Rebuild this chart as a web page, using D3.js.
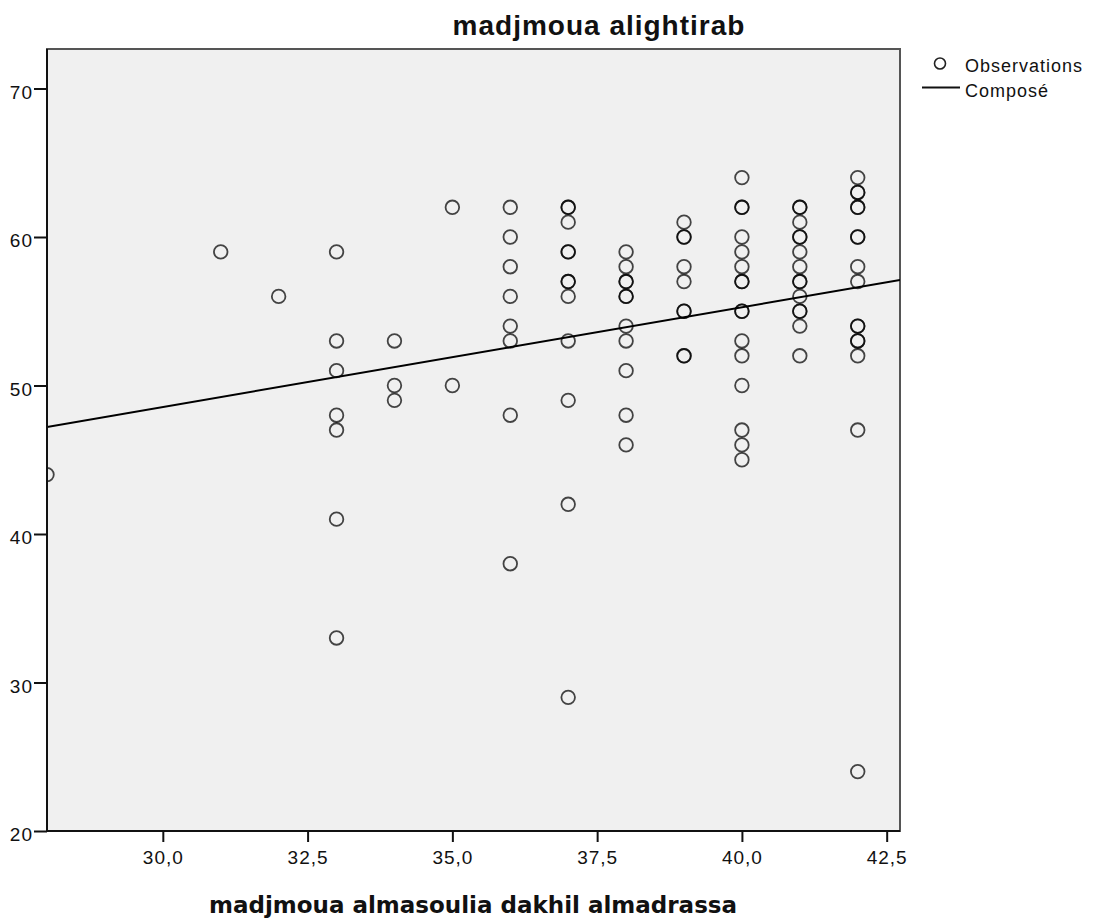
<!DOCTYPE html>
<meta charset="utf-8">
<style>
body { margin: 0; background: #fff; }
.tick text { font-family: "Liberation Sans", Arial, sans-serif; }
</style>
<body>
<svg id="chart" width="1096" height="924"></svg>
</body>
<script src="https://d3js.org/d3.v7.min.js"></script>
<script>
// x score of each column of points, and the y scores stacked on it
var groupX = [28, 31, 32, 33, 34, 35, 36, 37, 38, 39, 40, 41, 42];
var groupY = [
  [44],
  [59],
  [56],
  [59, 53, 51, 48, 47, 41, 33],
  [53, 50, 49],
  [62, 50],
  [62, 60, 58, 56, 54, 53, 48, 38],
  [62, 62, 61, 59, 59, 57, 57, 56, 53, 49, 42, 29],
  [59, 58, 57, 57, 56, 56, 54, 53, 51, 48, 46],
  [61, 60, 60, 58, 57, 55, 55, 52, 52],
  [64, 62, 62, 60, 59, 58, 57, 57, 55, 55, 53, 52, 50, 47, 46, 45],
  [62, 62, 61, 60, 60, 59, 58, 57, 57, 56, 55, 55, 54, 52],
  [64, 63, 63, 62, 62, 60, 60, 58, 57, 54, 54, 53, 53, 52, 47, 24]
];
// linear fit ("Composé")
var fitIntercept = 28.39;
var fitSlope = 0.672;

var xTicks = [30, 32.5, 35, 37.5, 40, 42.5];
var yTicks = [20, 30, 40, 50, 60, 70];
var legendLabels = ["Observations", "Composé"];
var chartTitle = "madjmoua alightirab";
var xTitle = "madjmoua almasoulia dakhil almadrassa";

var svg = d3.select("#chart");
var plotL = 47, plotR = 900, plotT = 49, plotB = 831;

var x = d3.scaleLinear().domain([28, 42.73]).range([plotL, plotR]);
var y = d3.scaleLinear().domain([20, 72.66]).range([plotB, plotT]);

var points = [];
groupX.forEach(function(gx, i) {
  groupY[i].forEach(function(gy) { points.push({x: gx, y: gy}); });
});

svg.append("defs").append("clipPath").attr("id", "plotClip")
  .append("rect")
    .attr("x", plotL).attr("y", plotT)
    .attr("width", plotR - plotL).attr("height", plotB - plotT);

// plot background and frame
svg.append("rect")
  .attr("x", plotL).attr("y", plotT)
  .attr("width", plotR - plotL).attr("height", plotB - plotT)
  .attr("fill", "#f0f0f0")
  .attr("stroke", "#555")
  .attr("stroke-width", 2);

var plot = svg.append("g").attr("clip-path", "url(#plotClip)");

// fit line
var x0 = x.domain()[0], x1 = x.domain()[1];
plot.append("line")
  .attr("x1", x(x0)).attr("y1", y(fitIntercept + fitSlope * x0))
  .attr("x2", x(x1)).attr("y2", y(fitIntercept + fitSlope * x1))
  .attr("stroke", "#000")
  .attr("stroke-width", 2);

// observations, drawn half transparent so repeated values look darker
plot.selectAll("circle.obs")
  .data(points)
  .enter().append("circle")
    .attr("class", "obs")
    .attr("cx", function(d) { return x(d.x); })
    .attr("cy", function(d) { return y(d.y); })
    .attr("r", 6.8)
    .attr("fill", "none")
    .attr("stroke", "#000")
    .attr("stroke-opacity", 0.72)
    .attr("stroke-width", 1.8);

// axes
var fmt = function(v) { return d3.format(".1f")(v).replace(".", ","); };

var yAxis = svg.append("g")
  .attr("transform", "translate(" + plotL + ",0)")
  .call(d3.axisLeft(y).tickValues(yTicks).tickSize(13).tickPadding(1).tickFormat(d3.format("d")));
yAxis.selectAll("text").attr("dy", "0.5em");

var xAxis = svg.append("g")
  .attr("transform", "translate(0," + plotB + ")")
  .call(d3.axisBottom(x).tickValues(xTicks).tickSize(11).tickPadding(9).tickFormat(fmt));

[xAxis, yAxis].forEach(function(a) {
  a.select(".domain").attr("stroke", "#111").attr("stroke-width", 2);
  a.selectAll(".tick line").attr("stroke", "#111").attr("stroke-width", 2);
  a.selectAll(".tick text")
    .attr("fill", "#111")
    .style("font-size", "19px")
    .style("letter-spacing", "1px");
});
// keep the axis lines inside the frame (no outer ticks)
xAxis.select(".domain").attr("d", "M" + plotL + ",0H" + plotR);
yAxis.select(".domain").attr("d", "M0," + plotT + "V" + plotB);

// titles
svg.append("text")
  .attr("x", 599).attr("y", 35)
  .attr("text-anchor", "middle")
  .style("font-family", "'Liberation Sans', Arial, sans-serif")
  .style("font-weight", "bold")
  .style("font-size", "28px")
  .style("letter-spacing", "1px")
  .attr("fill", "#111")
  .text(chartTitle);

svg.append("text")
  .attr("x", 473).attr("y", 913)
  .attr("text-anchor", "middle")
  .style("font-family", "'DejaVu Sans', sans-serif")
  .style("font-weight", "bold")
  .style("font-size", "23px")
  .attr("fill", "#111")
  .text(xTitle);

// legend
var legend = svg.append("g")
  .style("font-family", "'Liberation Sans', Arial, sans-serif")
  .style("font-size", "18px")
  .style("letter-spacing", "1px");

legend.append("circle")
  .attr("cx", 940).attr("cy", 63.5).attr("r", 5.5)
  .attr("fill", "none").attr("stroke", "#222").attr("stroke-width", 1.6);
legend.append("line")
  .attr("x1", 922).attr("x2", 960).attr("y1", 87.5).attr("y2", 87.5)
  .attr("stroke", "#111").attr("stroke-width", 2);

legend.selectAll("text.lbl")
  .data(legendLabels)
  .enter().append("text")
    .attr("class", "lbl")
    .attr("x", 965)
    .attr("y", function(d, i) { return 72 + i * 25; })
    .attr("fill", "#111")
    .text(function(d) { return d; });
</script>
